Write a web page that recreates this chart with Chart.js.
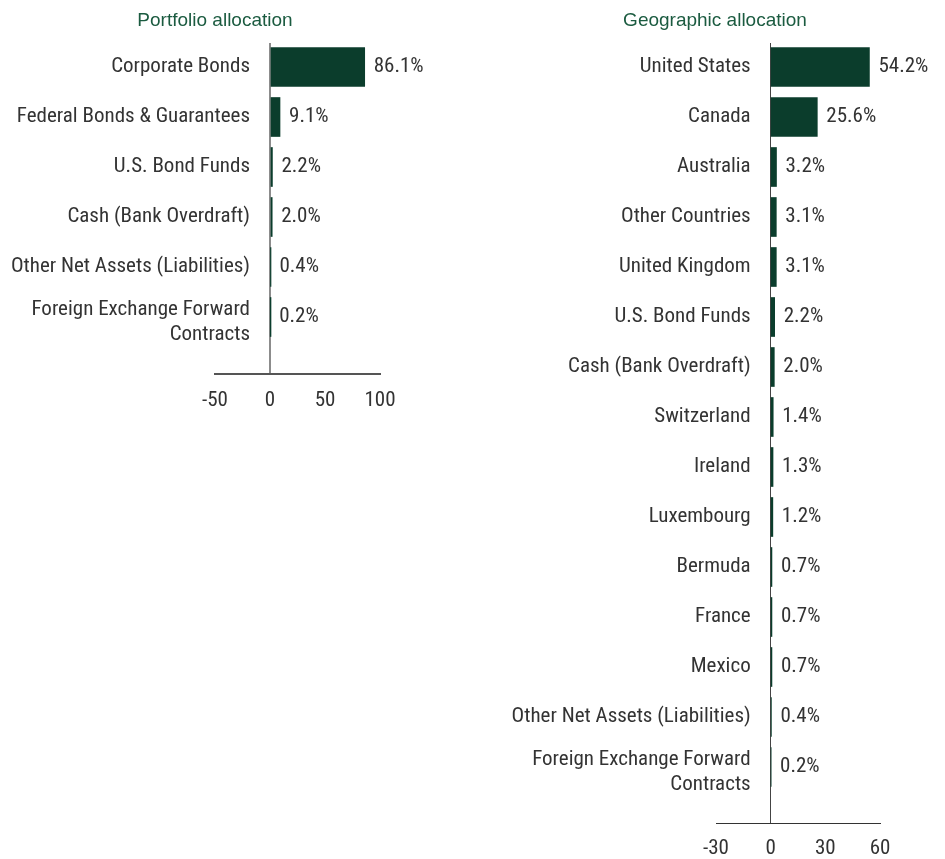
<!DOCTYPE html>
<html>
<head>
<meta charset="utf-8">
<script src="https://cdn.jsdelivr.net/npm/chart.js@4.4.1/dist/chart.umd.min.js"></script>
<style>
  html, body { margin: 0; padding: 0; background: #fff; overflow: hidden; }
  .box { position: absolute; top: 0; }
  #leftBox { left: 0; width: 430px; height: 420px; }
  #rightBox { left: 490px; width: 450px; height: 859px; }
</style>
</head>
<body>
<div class="box" id="leftBox"><canvas id="portfolioChart"></canvas></div>
<div class="box" id="rightBox"><canvas id="geoChart"></canvas></div>
<script>
// Portfolio allocation
const portfolioLabels = [
  "Corporate Bonds",
  "Federal Bonds & Guarantees",
  "U.S. Bond Funds",
  "Cash (Bank Overdraft)",
  "Other Net Assets (Liabilities)",
  ["Foreign Exchange Forward", "Contracts"],
];
const portfolioValues = [86.1, 9.1, 2.2, 2.0, 0.4, 0.2];
const portfolioTicks = [-50, 0, 50, 100];

// Geographic allocation
const geoLabels = [
  "United States",
  "Canada",
  "Australia",
  "Other Countries",
  "United Kingdom",
  "U.S. Bond Funds",
  "Cash (Bank Overdraft)",
  "Switzerland",
  "Ireland",
  "Luxembourg",
  "Bermuda",
  "France",
  "Mexico",
  "Other Net Assets (Liabilities)",
  ["Foreign Exchange Forward", "Contracts"],
];
const geoValues = [54.2, 25.6, 3.2, 3.1, 3.1, 2.2, 2.0, 1.4, 1.3, 1.2, 0.7, 0.7, 0.7, 0.4, 0.2];
const geoTicks = [-30, 0, 30, 60];

const BAR_COLOR = "#0b3d2c";
const TEXT_COLOR = "#333333";
const TITLE_COLOR = "#1b5b40";
const FONT = "'Roboto Condensed', 'Liberation Sans', Arial, sans-serif";
const FONT_SIZE = 21;

// category names left of the zero line, and "86.1%" past the end of each bar
const barText = {
  id: "barText",
  afterDatasetsDraw(chart, args, opts) {
    const ctx = chart.ctx;
    const meta = chart.getDatasetMeta(0);
    const data = chart.data.datasets[0].data;
    const xScale = chart.scales.x;
    const yScale = chart.scales.y;
    const zeroX = xScale.getPixelForValue(0);
    ctx.save();
    ctx.font = FONT_SIZE + "px " + FONT;
    ctx.fillStyle = TEXT_COLOR;
    ctx.textBaseline = "middle";
    ctx.textAlign = "right";
    opts.labels.forEach((label, i) => {
      const y = yScale.getPixelForValue(i);
      const lines = Array.isArray(label) ? label : [label];
      const lh = 25;
      const shift = lines.length > 1 ? 5 : 0;
      lines.forEach((line, j) => {
        ctx.fillText(line, zeroX - 20, y + shift + (j - (lines.length - 1) / 2) * lh);
      });
    });
    ctx.textAlign = "left";
    meta.data.forEach((bar, i) => {
      ctx.fillText(data[i].x.toFixed(1) + "%", bar.x + 9, bar.y);
    });
    ctx.restore();
  },
};

function makeChart(canvasId, title, labels, values, ticks, opts) {
  const points = values.map((v, i) => ({ x: v, y: i }));
  return new Chart(document.getElementById(canvasId), {
    type: "bar",
    data: {
      datasets: [
        {
          data: points,
          backgroundColor: BAR_COLOR,
          borderWidth: 0,
          barThickness: 39,
        },
      ],
    },
    plugins: [barText],
    options: {
      responsive: true,
      maintainAspectRatio: false,
      animation: false,
      indexAxis: "y",
      layout: {
        padding: { left: 0, right: 0, top: 0, bottom: opts.bottomPad },
      },
      plugins: {
        legend: { display: false },
        tooltip: { enabled: false },
        barText: { labels: labels },
        title: {
          display: true,
          text: title,
          color: TITLE_COLOR,
          font: { family: "'Liberation Sans', Arial, sans-serif", size: 19, weight: "normal", lineHeight: 1.2 },
          padding: { top: 9, bottom: 11.2 },
        },
      },
      scales: {
        x: {
          type: "linear",
          min: ticks[0],
          max: ticks[ticks.length - 1],
          afterBuildTicks: (scale) => {
            scale.ticks = ticks.map((t) => ({ value: t }));
          },
          afterFit: (scale) => {
            scale.height = opts.xHeight;
          },
          ticks: {
            color: TEXT_COLOR,
            padding: opts.xTickPad,
            font: { family: FONT, size: FONT_SIZE, lineHeight: 1.2 },
          },
          grid: {
            drawTicks: false,
            color: (c) => (c.tick && c.tick.value === 0 ? opts.zeroColor : "transparent"),
            lineWidth: opts.zeroWidth,
          },
          border: { display: true, color: opts.axisColor, width: opts.axisWidth },
        },
        y: {
          type: "linear",
          offset: false,
          reverse: true,
          min: -0.48,
          max: opts.yMax,
          afterFit: (scale) => {
            scale.width = opts.leftWidth;
          },
          ticks: { display: false },
          grid: { display: false },
          border: { display: false },
        },
        // empty axis on the right keeps room for the value labels
        yRight: {
          type: "linear",
          position: "right",
          afterFit: (scale) => {
            scale.width = opts.rightWidth;
          },
          ticks: { display: false },
          grid: { display: false },
          border: { display: false },
        },
      },
    },
  });
}

makeChart("portfolioChart", "Portfolio allocation", portfolioLabels, portfolioValues, portfolioTicks, {
  yMax: 6.14,
  leftWidth: 215,
  rightWidth: 50,
  xHeight: 40,
  bottomPad: 6,
  xTickPad: 14,
  zeroColor: "#8c8c8c",
  zeroWidth: 2,
  axisColor: "#555555",
  axisWidth: 2,
});

makeChart("geoChart", "Geographic allocation", geoLabels, geoValues, geoTicks, {
  yMax: 15.12,
  leftWidth: 226,
  rightWidth: 60,
  xHeight: 36,
  bottomPad: 0,
  xTickPad: 13,
  zeroColor: "#444444",
  zeroWidth: 1,
  axisColor: "#333333",
  axisWidth: 1,
});
</script>
</body>
</html>
